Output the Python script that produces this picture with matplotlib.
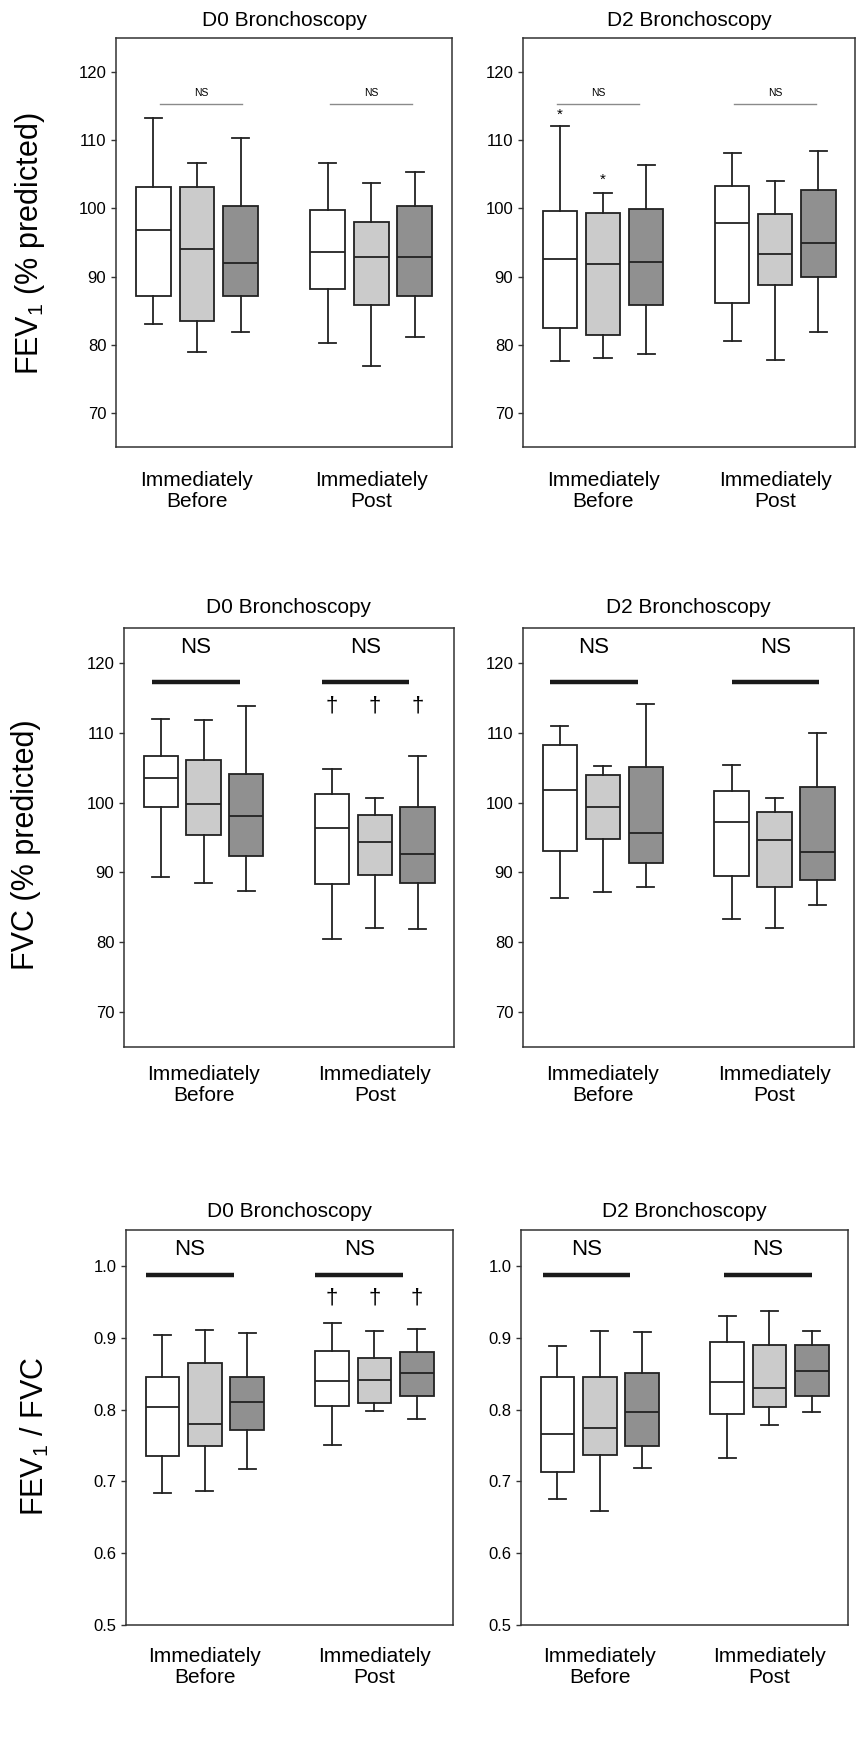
import matplotlib
matplotlib.use("Agg")
import matplotlib.pyplot as plt

plt.rcParams['font.family'] = ['Liberation Sans', 'DejaVu Sans']
plt.rcParams['mathtext.default'] = 'regular'

# box stats per box: [whisker low, Q1, median, Q3, whisker high]
# order: before (white, light, dark), post (white, light, dark)
fev1_d0 = [[83.1, 87.1, 96.9, 103.2, 113.3], [79.0, 83.5, 94.1, 103.1, 106.7], [81.9, 87.2, 92.0, 100.3, 110.3],
           [80.2, 88.2, 93.6, 99.8, 106.6], [76.9, 85.9, 92.9, 98.0, 103.7], [81.1, 87.2, 92.9, 100.4, 105.3]]
fev1_d2 = [[77.6, 82.5, 92.6, 99.6, 112.1], [78.0, 81.5, 91.9, 99.4, 102.3], [78.7, 85.8, 92.1, 99.9, 106.4],
           [80.6, 86.1, 97.8, 103.3, 108.2], [77.7, 88.7, 93.3, 99.2, 104.0], [81.8, 90.0, 94.9, 102.7, 108.4]]
fvc_d0 = [[89.4, 99.3, 103.5, 106.7, 111.9], [88.5, 95.3, 99.8, 106.1, 111.8], [87.3, 92.3, 98.1, 104.1, 113.8],
          [80.5, 88.4, 96.4, 101.3, 104.8], [82.0, 89.6, 94.4, 98.2, 100.6], [81.9, 88.5, 92.6, 99.4, 106.7]]
fvc_d2 = [[86.4, 93.0, 101.8, 108.2, 110.9], [87.2, 94.8, 99.4, 103.9, 105.3], [87.9, 91.3, 95.6, 105.1, 114.1],
          [83.3, 89.5, 97.2, 101.6, 105.4], [82.0, 87.9, 94.7, 98.7, 100.6], [85.4, 88.9, 92.9, 102.2, 110.0]]
ratio_d0 = [[0.684, 0.735, 0.803, 0.845, 0.904], [0.686, 0.749, 0.780, 0.865, 0.911], [0.717, 0.772, 0.810, 0.845, 0.907],
            [0.750, 0.805, 0.840, 0.881, 0.920], [0.798, 0.809, 0.841, 0.872, 0.909], [0.787, 0.819, 0.851, 0.880, 0.912]]
ratio_d2 = [[0.675, 0.713, 0.766, 0.846, 0.889], [0.659, 0.737, 0.774, 0.846, 0.910], [0.718, 0.749, 0.796, 0.851, 0.908],
            [0.732, 0.794, 0.838, 0.894, 0.930], [0.779, 0.803, 0.830, 0.890, 0.937], [0.797, 0.819, 0.854, 0.890, 0.909]]

groups = ['Immediately\nBefore', 'Immediately\nPost']
titles = ['D0 Bronchoscopy', 'D2 Bronchoscopy']
ylabels = ['FEV$_1$ (% predicted)', 'FVC (% predicted)', 'FEV$_1$ / FVC']
colors = ['white', '#cbcbcb', '#909090']

W, H = 857, 1752
fig = plt.figure(figsize=(W / 100, H / 100), dpi=100)

# pixel rects: x0, x1, ytop, ybottom
rects = [[(116, 452, 38, 447), (523, 855, 38, 447)],
         [(124, 454, 628, 1047), (523, 854, 628, 1047)],
         [(126, 453, 1230, 1625), (521, 848, 1230, 1625)]]
data = [[fev1_d0, fev1_d2], [fvc_d0, fvc_d2], [ratio_d0, ratio_d2]]
ns_ext = [[[(-0.21, 0.26), (-0.236, 0.235)], [(-0.27, 0.21), (-0.24, 0.235)]],
          [[(-0.30, 0.21), (-0.31, 0.20)], [(-0.31, 0.205), (-0.25, 0.26)]],
          [[(-0.35, 0.17), (-0.35, 0.17)], [(-0.335, 0.18), (-0.27, 0.25)]]]
label_xy = [(-0.205, 0.496), (-0.25, 0.482), (-0.228, 0.478)]

for r in range(3):
    for c in range(2):
        x0, x1, yt, yb = rects[r][c]
        ax = fig.add_axes([x0 / W, 1 - yb / H, (x1 - x0) / W, (yb - yt) / H])
        boxes = data[r][c]
        pos = [1 - 0.25, 1, 1 + 0.25, 2 - 0.25, 2, 2 + 0.25]
        stats = [dict(whislo=b[0], q1=b[1], med=b[2], q3=b[3], whishi=b[4]) for b in boxes]
        bp = ax.bxp(stats, positions=pos, widths=0.2, patch_artist=True, showfliers=False,
                    boxprops=dict(edgecolor='#222222', linewidth=1.3),
                    medianprops=dict(color='#222222', linewidth=1.3),
                    whiskerprops=dict(color='#222222', linewidth=1.3),
                    capprops=dict(color='#222222', linewidth=1.3), capwidths=0.1)
        for i, patch in enumerate(bp['boxes']):
            patch.set_facecolor(colors[i % 3])

        ax.set_xlim(0.535, 2.463)
        if r < 2:
            ax.set_ylim(65, 125)
            ax.set_yticks([70, 80, 90, 100, 110, 120])
        else:
            ax.set_ylim(0.5, 1.05)
            ax.set_yticks([0.5, 0.6, 0.7, 0.8, 0.9, 1.0])
            ax.set_yticklabels(['0.5', '0.6', '0.7', '0.8', '0.9', '1.0'])
        ax.set_xticks([1, 2])
        ax.set_xticklabels(groups, fontsize=15, linespacing=1.15)
        ax.tick_params(axis='x', length=0, pad=[17, 13, 16][r])
        ax.tick_params(axis='y', length=3.5, width=1, labelsize=12, color='#333333')
        for s in ax.spines.values():
            s.set_color('#333333')
            s.set_linewidth(1.1)
        ax.set_title(titles[c], fontsize=15, pad=[9, 11, 9.5][r])

        # significance annotations
        for g in range(2):
            lo, hi = ns_ext[r][c][g]
            mid = (g + 1) + (lo + hi) / 2
            if r == 0:
                ax.plot([g + 1 + lo, g + 1 + hi], [115.3, 115.3], color='#8a8a8a', lw=1.0)
                ax.text(mid, 117.0, 'NS', ha='center', va='center', fontsize=7.5)
            elif r == 1:
                ax.plot([g + 1 + lo, g + 1 + hi], [117.3, 117.3], color='#1a1a1a', lw=3.2, solid_capstyle='butt')
                ax.text(mid, 122.2, 'NS', ha='center', va='center', fontsize=16)
            else:
                ax.plot([g + 1 + lo, g + 1 + hi], [0.988, 0.988], color='#1a1a1a', lw=3.2, solid_capstyle='butt')
                ax.text(mid, 1.023, 'NS', ha='center', va='center', fontsize=16)
        if c == 0 and r > 0:
            yd = 113.8 if r == 1 else 0.955
            for p in pos[3:]:
                ax.text(p, yd, '\u2020', ha='center', va='center', fontsize=16)
        if r == 0 and c == 1:
            ax.text(pos[0], 113.7, '*', ha='center', va='center', fontsize=11)
            ax.text(pos[1], 104.2, '*', ha='center', va='center', fontsize=11)

        if c == 0:
            ax.set_ylabel(ylabels[r], fontsize=22)
            ax.yaxis.set_label_coords(*label_xy[r])

fig.savefig('out.png', dpi=100)
